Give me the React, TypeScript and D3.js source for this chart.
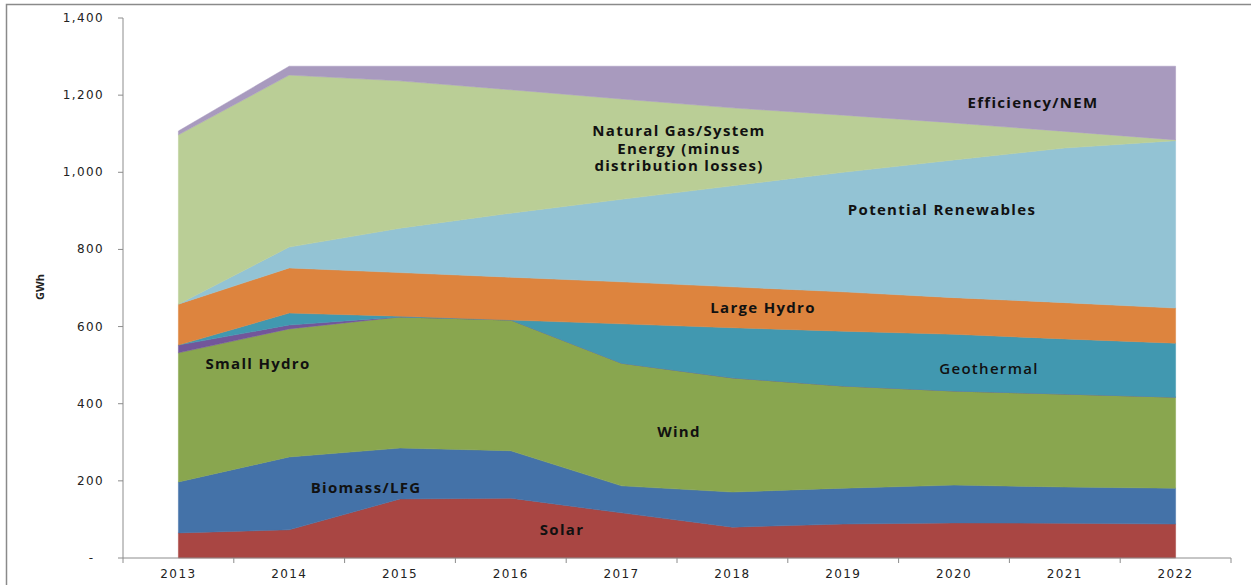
import { useEffect, useRef } from "react";
import * as d3 from "d3";

// categories
const years = ["2013", "2014", "2015", "2016", "2017", "2018", "2019", "2020", "2021", "2022"];

// series values (GWh), stacked bottom to top
const solar = [65, 73, 153, 155, 117, 80, 88, 91, 90, 88];
const biomass = [132, 189, 132, 123, 70, 91, 93, 98, 94, 93];
const wind = [335, 332, 340, 339, 318, 296, 265, 244, 241, 236];
const smallHydro = [20, 10, 0, 0, 0, 0, 0, 0, 0, 0];
const geothermal = [0, 31, 2, 0, 102, 130, 142, 147, 143, 140];
const largeHydro = [106, 117, 113, 111, 109, 106, 102, 95, 94, 91];
const potentialRenewables = [0, 54, 115, 166, 214, 262, 310, 357, 401, 434];
const naturalGas = [439, 446, 382, 320, 260, 202, 148, 96, 43, 2];
const efficiency = [10, 23, 38, 61, 85, 108, 127, 147, 169, 191];

const seriesNames = [
	"Solar",
	"Biomass/LFG",
	"Wind",
	"Small Hydro",
	"Geothermal",
	"Large Hydro",
	"Potential Renewables",
	"Natural Gas",
	"Efficiency/NEM",
];
const seriesValues = [solar, biomass, wind, smallHydro, geothermal, largeHydro, potentialRenewables, naturalGas, efficiency];
const seriesColors = ["#A94643", "#4472A8", "#89A64F", "#72569A", "#4198B0", "#DD843E", "#93C3D4", "#BACE96", "#A89ABE"];

const yTicks = [0, 200, 400, 600, 800, 1000, 1200, 1400];

// in-chart labels
const areaLabels: { lines: string[]; x: number; y: number; weight: string }[] = [
	{ lines: ["Natural Gas/System", "Energy (minus", "distribution losses)"], x: 679, y: 131, weight: "bold" },
	{ lines: ["Efficiency/NEM"], x: 1033, y: 103, weight: "bold" },
	{ lines: ["Potential Renewables"], x: 942, y: 210, weight: "bold" },
	{ lines: ["Large Hydro"], x: 763, y: 308, weight: "bold" },
	{ lines: ["Geothermal"], x: 989, y: 369, weight: "600" },
	{ lines: ["Small Hydro"], x: 258, y: 364, weight: "bold" },
	{ lines: ["Wind"], x: 679, y: 432, weight: "bold" },
	{ lines: ["Biomass/LFG"], x: 366, y: 488, weight: "bold" },
	{ lines: ["Solar"], x: 562, y: 530, weight: "bold" },
];

function App() {
	const ref = useRef<SVGSVGElement>(null);

	useEffect(() => {
		const svg = d3.select(ref.current);
		svg.selectAll("*").remove();

		const width = 1251;
		const height = 585;
		const left = 123;
		const right = 1231;
		const top = 18;
		const bottom = 558;

		// frame
		svg
			.append("rect")
			.attr("x", 6.5)
			.attr("y", 4.5)
			.attr("width", width + 10)
			.attr("height", height + 10)
			.attr("fill", "#fff")
			.attr("stroke", "#8a8a8a")
			.attr("stroke-width", 1.5);

		const x = d3.scalePoint<string>().domain(years).range([left, right]).padding(0.5);
		const y = d3.scaleLinear().domain([0, 1400]).range([bottom, top]);

		// table for stacking
		const table = years.map((yr, i) => {
			const row: Record<string, number | string> = { year: yr };
			seriesNames.forEach((n, k) => (row[n] = seriesValues[k][i]));
			return row;
		});
		const stacked = d3.stack<Record<string, number | string>>().keys(seriesNames)(table);

		const area = d3
			.area<d3.SeriesPoint<Record<string, number | string>>>()
			.x((d) => x(d.data.year as string) as number)
			.y0((d) => y(d[0]))
			.y1((d) => y(d[1]));

		svg
			.append("g")
			.selectAll("path")
			.data(stacked)
			.enter()
			.append("path")
			.attr("d", (d) => area(d) as string)
			.attr("fill", (d, i) => seriesColors[i])
			.attr("stroke", (d, i) => seriesColors[i])
			.attr("stroke-width", 0.5);

		// y axis
		const axisColor = "#8c8c8c";
		svg.append("line").attr("x1", left).attr("x2", left).attr("y1", top).attr("y2", bottom).attr("stroke", axisColor);
		const yg = svg.append("g");
		yTicks.forEach((t) => {
			yg.append("line")
				.attr("x1", left - 5)
				.attr("x2", left)
				.attr("y1", y(t))
				.attr("y2", y(t))
				.attr("stroke", axisColor);
			yg.append("text")
				.attr("x", t === 0 ? 93 : 104)
				.attr("y", y(t) + 4)
				.attr("text-anchor", "end")
				.attr("font-family", "DejaVu Sans")
				.attr("font-size", 12)
				.attr("letter-spacing", t === 0 ? 0 : 1.4)
				.attr("fill", "#222")
				.text(t === 0 ? "-" : d3.format(",")(t));
		});

		// x axis
		svg.append("line").attr("x1", left).attr("x2", right).attr("y1", bottom).attr("y2", bottom).attr("stroke", axisColor);
		const step = x.step();
		d3.range(years.length + 1).forEach((i) => {
			const xx = left + i * step;
			svg.append("line").attr("x1", xx).attr("x2", xx).attr("y1", bottom).attr("y2", bottom + 5).attr("stroke", axisColor);
		});
		svg
			.append("g")
			.selectAll("text")
			.data(years)
			.enter()
			.append("text")
			.attr("x", (d) => x(d) as number)
			.attr("y", 578)
			.attr("text-anchor", "middle")
			.attr("font-family", "DejaVu Sans")
			.attr("font-size", 12)
			.attr("letter-spacing", 1.4)
			.attr("fill", "#222")
			.text((d) => d);

		// y title
		svg
			.append("text")
			.attr("transform", "translate(44,287) rotate(-90)")
			.attr("text-anchor", "middle")
			.attr("font-family", "Open Sans")
			.attr("font-weight", "bold")
			.attr("font-size", 11)
			.attr("fill", "#222")
			.text("GWh");

		// area labels
		areaLabels.forEach((lab) => {
			const t = svg
				.append("text")
				.attr("text-anchor", "middle")
				.attr("font-family", "Open Sans")
				.attr("font-weight", lab.weight)
				.attr("font-size", 15)
				.attr("letter-spacing", 1.3)
				.attr("fill", "#111");
			lab.lines.forEach((ln, i) => {
				t.append("tspan")
					.attr("x", lab.x)
					.attr("y", lab.y + 5 + i * 17.5)
					.text(ln);
			});
		});
	}, []);

	return (
		<svg
			ref={ref}
			width={1251}
			height={585}
			style={{ position: "absolute", left: 0, top: 0, display: "block" }}
		/>
	);
}

export default App;
